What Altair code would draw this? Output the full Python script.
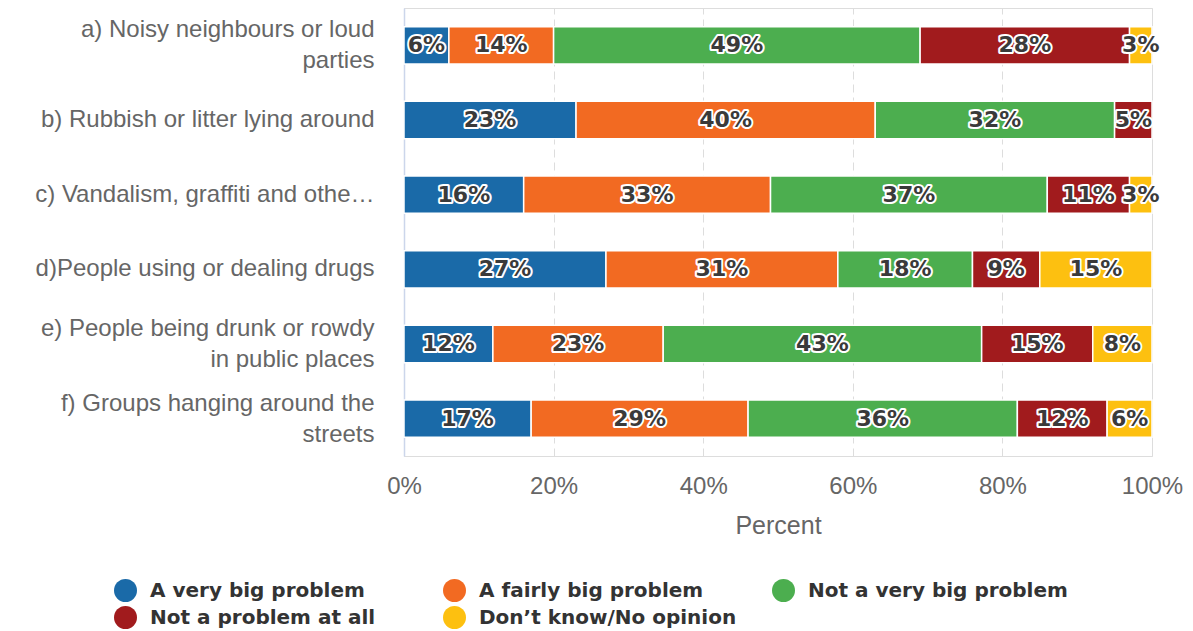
import altair as alt
import pandas as pd

categories = [
    "a) Noisy neighbours or loud|parties",
    "b) Rubbish or litter lying around",
    "c) Vandalism, graffiti and othe\u2026",
    "d)People using or dealing drugs",
    "e) People being drunk or rowdy|in public places",
    "f) Groups hanging around the|streets",
]
responses = [
    "A very big problem",
    "A fairly big problem",
    "Not a very big problem",
    "Not a problem at all",
    "Don\u2019t know/No opinion",
]
colors = ["#1a6aa8", "#f26a22", "#4cae4f", "#a11b1d", "#fdc010"]

very_big = [6, 23, 16, 27, 12, 17]
fairly_big = [14, 40, 33, 31, 23, 29]
not_very_big = [49, 32, 37, 18, 43, 36]
not_at_all = [28, 5, 11, 9, 15, 12]
dont_know = [3, 0, 3, 15, 8, 6]

series = [very_big, fairly_big, not_very_big, not_at_all, dont_know]
rows = []
for ri, (resp, vals) in enumerate(zip(responses, series)):
    for ci, (cat, v) in enumerate(zip(categories, vals)):
        if v > 0:
            rows.append({"category": cat, "response": resp, "order": ri, "value": v})
df = pd.DataFrame(rows)

base = alt.Chart(df).transform_stack(
    stack="value",
    groupby=["category"],
    as_=["start", "end"],
    offset="normalize",
    sort=[alt.SortField("order", order="ascending")],
).transform_calculate(
    mid="(datum.start + datum.end) / 2",
    label="datum.value + '%'",
)

y_enc = alt.Y(
    "category:N",
    sort=categories,
    scale=alt.Scale(paddingInner=0.5, paddingOuter=0.25),
    axis=alt.Axis(
        title=None,
        labelExpr="split(datum.label, '|')",
        labelFontSize=24,
        labelColor="#666666",
        labelFont="Liberation Sans",
        labelLineHeight=31,
        labelPadding=30,
        labelLimit=400,
        labelOffset={
            "condition": {"test": "indexof(datum.label, '|') >= 0", "value": -15},
            "value": 0,
        },
        ticks=False,
        domain=True,
        domainColor="#ccd6eb",
        domainWidth=1.5,
        grid=False,
    ),
)

bars = base.mark_bar(stroke="white", strokeWidth=1.5).encode(
    x=alt.X(
        "start:Q",
        scale=alt.Scale(domain=[0, 1], nice=False),
        axis=alt.Axis(
            title="Percent",
            format="%",
            values=[0, 0.2, 0.4, 0.6, 0.8, 1.0],
            labelFlush=False,
            labelFontSize=24,
            labelColor="#666666",
            labelFont="Liberation Sans",
            labelPadding=18,
            titleFontSize=25,
            titleColor="#666666",
            titleFont="Liberation Sans",
            titleFontWeight="normal",
            titlePadding=15,
            ticks=False,
            domain=False,
            grid=True,
            gridColor="#dddddd",
            gridDash=[8, 5],
            gridWidth=1,
        ),
    ),
    x2="end:Q",
    y=y_enc,
    color=alt.Color(
        "response:N",
        sort=responses,
        scale=alt.Scale(domain=responses, range=colors),
        legend=alt.Legend(
            title=None,
            orient="none",
            legendX=-290,
            legendY=571,
            direction="horizontal",
            columns=3,
            gridAlign="all",
            columnPadding=33,
            rowPadding=4,
            symbolType="circle",
            symbolSize=529,
            symbolStrokeWidth=0,
            labelFontSize=20,
            labelFontWeight="bold",
            labelColor="#333333",
            labelFont="DejaVu Sans",
            labelLimit=400,
            labelOffset=13,
        ),
    ),
)

text_outline = base.mark_text(
    fontSize=22, fontWeight="bold", font="DejaVu Sans",
    stroke="white", strokeWidth=4, strokeJoin="round", fill="white",
).encode(
    x=alt.X("mid:Q"),
    y=alt.Y("category:N", sort=categories),
    text="label:N",
)

text_fill = base.mark_text(
    fontSize=22, fontWeight="bold", font="DejaVu Sans", fill="#3a3a3a",
).encode(
    x=alt.X("mid:Q"),
    y=alt.Y("category:N", sort=categories),
    text="label:N",
)

chart = alt.layer(bars, text_outline, text_fill).properties(
    width=748,
    height=448,
    padding={"left": 26, "top": 0, "right": 0, "bottom": 0},
).configure_view(stroke=None).configure(background="white")

chart.save("out.html", embed_options={"renderer": "svg", "actions": False})
